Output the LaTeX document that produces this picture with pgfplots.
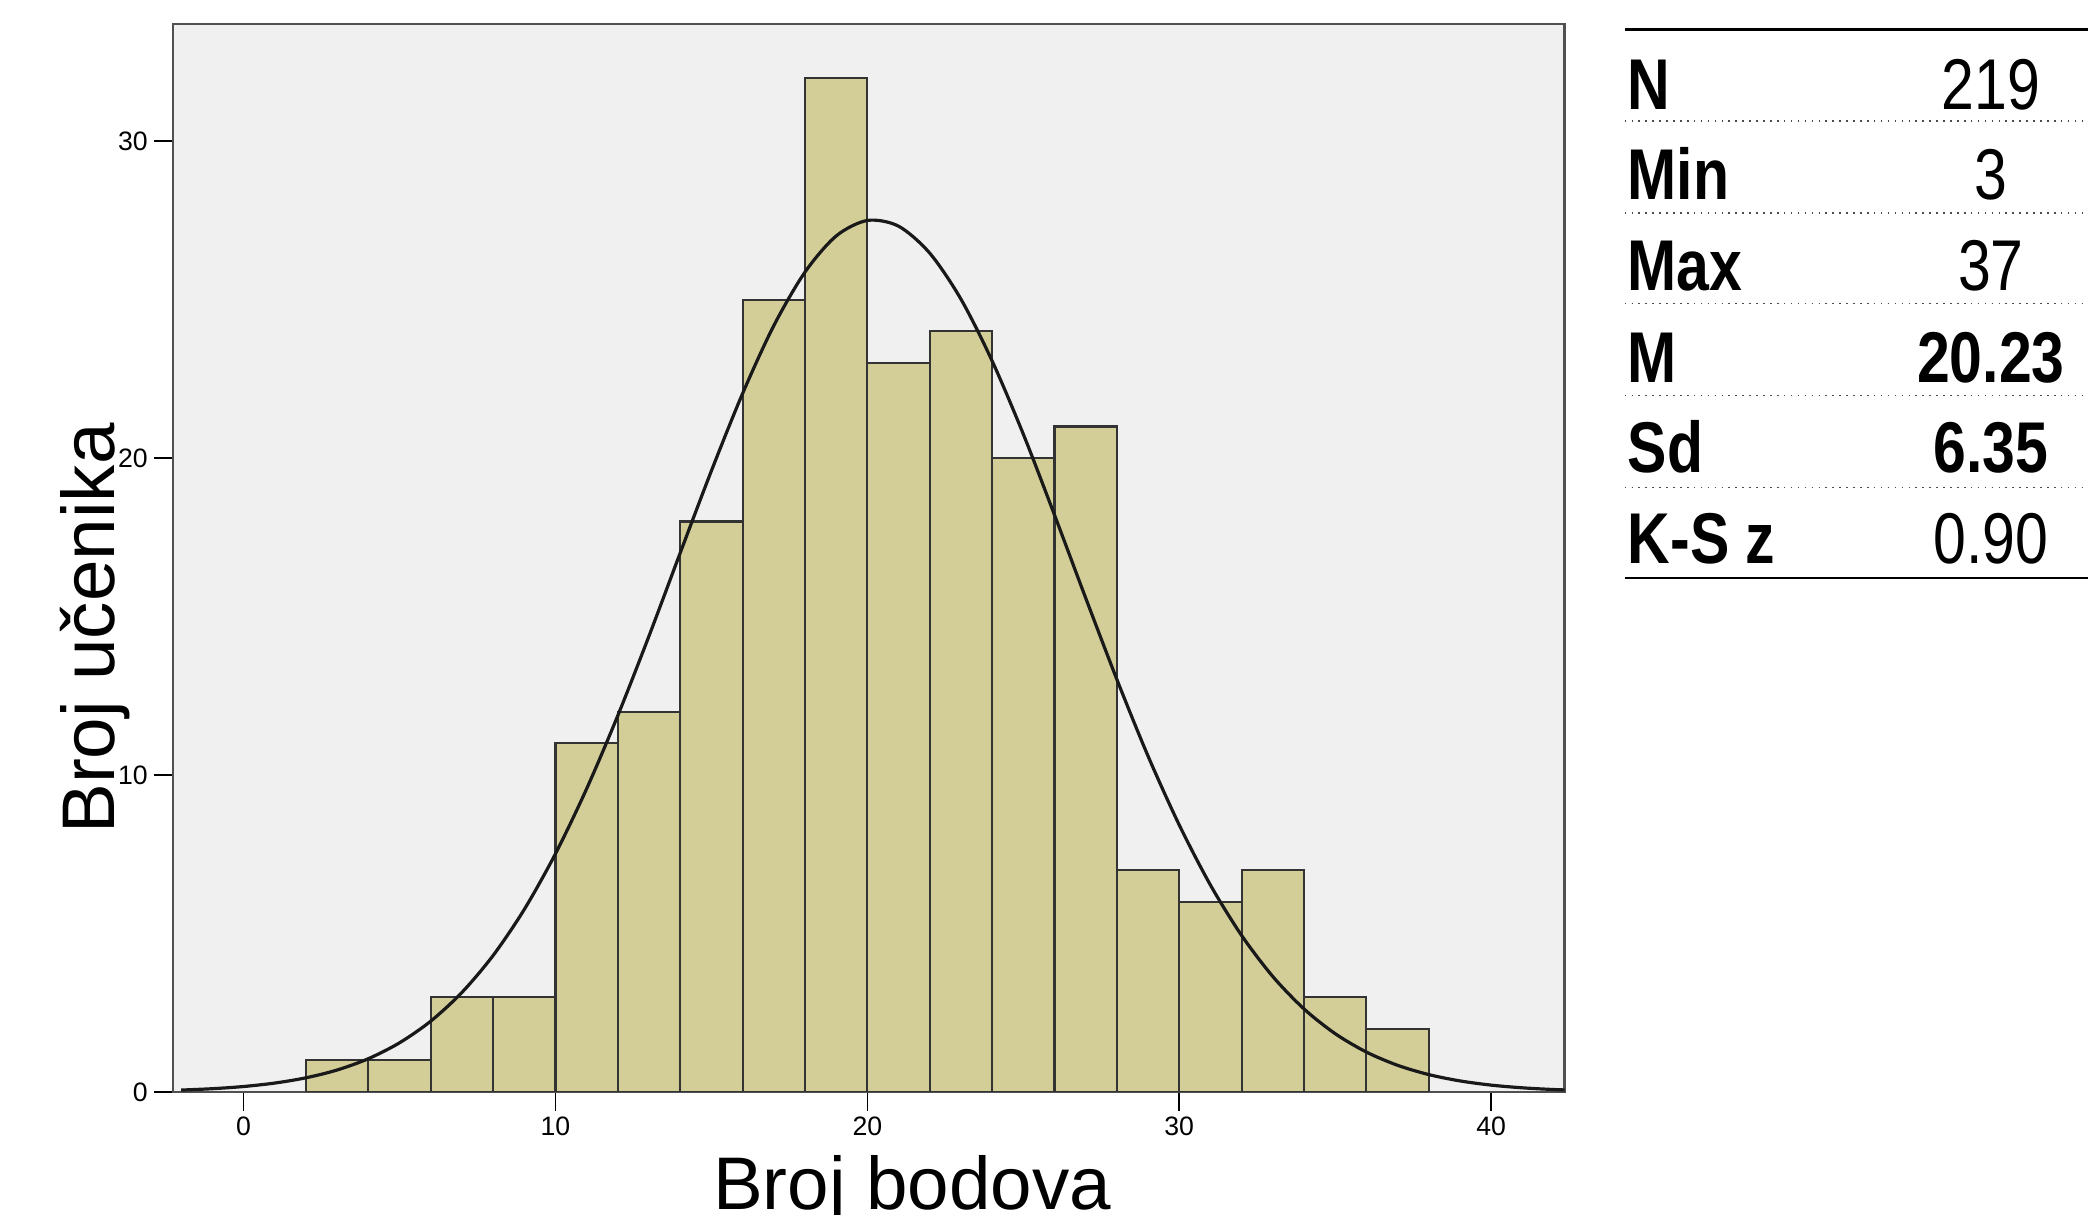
\documentclass[border=0pt]{standalone}
\usepackage{pgfplots}
\pgfplotsset{compat=1.18}
\usepackage{fontspec}
\setmainfont{Liberation Sans}
\newfontfamily\labfont{Liberation Sans}
\newfontfamily\tabfont[FakeStretch=0.82]{Liberation Sans}
\definecolor{bgGray}{HTML}{F0F0F0}
\definecolor{barFill}{HTML}{D3CE98}
\definecolor{frameGray}{HTML}{505050}
\begin{document}
\begin{tikzpicture}
\useasboundingbox (0,0) rectangle (784pt,-456pt);
\begin{axis}[
  at={(65pt,-410pt)}, anchor=south west,
  scale only axis, width=522.5pt, height=401pt,
  xmin=-2.26, xmax=42.36, ymin=0, ymax=33.7,
  xtick={0,10,20,30,40}, ytick={0,10,20,30},
  tick pos=lower, tick align=outside, major tick length=7pt,
  tick style={black, line width=0.6pt},
  axis line style={frameGray, line width=0.9pt},
  axis background/.style={fill=bgGray},
  /pgf/number format/assume math mode=true,
  tick label style={font=\fontsize{10}{12}\selectfont},
  xticklabel style={yshift=1pt},
  yticklabel style={xshift=1pt},
]
\addplot[ybar interval, fill=barFill, draw=black!80, line width=0.8pt] coordinates {
(2,1) (4,1) (6,3) (8,3) (10,11) (12,12) (14,18) (16,25) (18,32) (20,23)
(22,24) (24,20) (26,21) (28,7) (30,6) (32,7) (34,3) (36,2) (38,2)
};
\addplot[smooth, black!90, line width=1.2pt, mark=none] coordinates {
(-2,0.060) (-1,0.103) (0,0.172) (1,0.281) (2,0.447) (3,0.693) (4,1.050)
(5,1.551) (6,2.234) (7,3.140) (8,4.306) (9,5.760) (10,7.518) (11,9.569)
(12,11.88) (13,14.39) (14,17.01) (15,19.60) (16,22.04) (17,24.18) (18,25.87)
(19,27.01) (20,27.50) (21,27.32) (22,26.47) (23,25.02) (24,23.07)
(25,20.76) (26,18.21) (27,15.59) (28,13.02) (29,10.60) (30,8.427) (31,6.531)
(32,4.940) (33,3.644) (34,2.621) (35,1.840) (36,1.260) (37,0.842) (38,0.549)
(39,0.349) (40,0.216) (41,0.131) (42,0.0772) (43,0.045)
};
\end{axis}
% axis titles
\node[rotate=90, anchor=base, inner sep=0pt, font=\labfont\fontsize{28}{33}\selectfont] at (43pt,-236pt) {Broj učenika};
\node[anchor=base, inner sep=0pt, font=\labfont\fontsize{28}{33}\selectfont] at (342.5pt,-454pt) {Broj bodova};
% statistics table
\draw[black, line width=0.9pt] (610pt,-11pt) -- (784pt,-11pt);
\draw[black, line width=0.9pt] (610pt,-217pt) -- (784pt,-217pt);
\foreach \yy in {45.5,80,114,148.5,183} {
  \draw[black!70, line width=0.6pt, dotted] (610pt,-\yy pt) -- (783pt,-\yy pt);
}
\begin{scope}[every node/.style={inner sep=0pt, font=\tabfont\fontsize{27}{32}\selectfont}]
\node[anchor=base west] at (611pt,-41pt) {\bfseries N};
\node[anchor=base west] at (611pt,-75pt) {\bfseries Min};
\node[anchor=base west] at (611pt,-109pt) {\bfseries Max};
\node[anchor=base west] at (611pt,-143.5pt) {\bfseries M};
\node[anchor=base west] at (611pt,-177.5pt) {\bfseries Sd};
\node[anchor=base west] at (611pt,-211.5pt) {\bfseries K-S z};
\node[anchor=base] at (747.5pt,-41pt) {219};
\node[anchor=base] at (747.5pt,-75pt) {3};
\node[anchor=base] at (747.5pt,-109pt) {37};
\node[anchor=base] at (747.5pt,-143.5pt) {\bfseries 20.23};
\node[anchor=base] at (747.5pt,-177.5pt) {\bfseries 6.35};
\node[anchor=base] at (747.5pt,-211.5pt) {0.90};
\end{scope}
\end{tikzpicture}
\end{document}
